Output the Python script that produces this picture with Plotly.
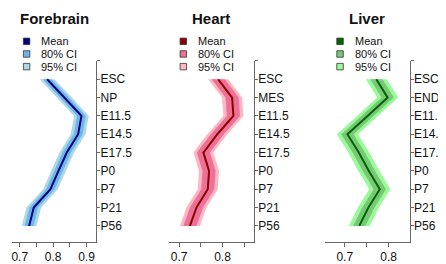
import plotly.graph_objects as go

# page body has an 8px margin: work in window pixels and convert
OX, OY = 8, 8
W, H = 438, 256

# ---------------- data ----------------
tissues = ["Forebrain", "Heart", "Liver"]
stages_forebrain = ["ESC", "NP", "E11.5", "E14.5", "E17.5", "P0", "P7", "P21", "P56"]
stages_heart = ["ESC", "MES", "E11.5", "E14.5", "E17.5", "P0", "P7", "P21", "P56"]
stages_liver = ["ESC", "END", "E11.5", "E14.5", "E17.5", "P0", "P7", "P21", "P56"]

mean_forebrain = [0.782, 0.834, 0.885, 0.875, 0.841, 0.816, 0.792, 0.742, 0.728]
mean_heart = [0.790, 0.822, 0.825, 0.788, 0.756, 0.769, 0.766, 0.740, 0.725]
mean_liver = [0.772, 0.798, 0.752, 0.706, 0.732, 0.755, 0.780, 0.754, 0.733]

half80_forebrain = [0.013] * 9
half95_forebrain = [0.022] * 9
half80_heart = [0.015] * 9
half95_heart = [0.023] * 9
half80_liver = [0.014] * 9
half95_liver = [0.024] * 9

xtick_vals_forebrain = [0.7, 0.75, 0.8, 0.85, 0.9]
xtick_text_forebrain = ["0.7", "", "0.8", "", "0.9"]
xtick_vals_heart = [0.7, 0.75, 0.8, 0.85]
xtick_text_heart = ["0.7", "", "0.8", ""]
xtick_vals_liver = [0.7, 0.75, 0.8]
xtick_text_liver = ["0.7", "", "0.8"]

legend_labels = ["Mean", "80% CI", "95% CI"]

colors = {
    "Forebrain": ("#000080", "#6DB6E6", "#ADD8E6"),
    "Heart": ("#8B0000", "#EC7196", "#FFB6C1"),
    "Liver": ("#006400", "#78C878", "#98FB98"),
}

panels = [
    ("Forebrain", stages_forebrain, mean_forebrain, half80_forebrain, half95_forebrain,
     xtick_vals_forebrain, xtick_text_forebrain, [0.6765, 0.929], (12, 98), 40),
    ("Heart", stages_heart, mean_heart, half80_heart, half95_heart,
     xtick_vals_heart, xtick_text_heart, [0.676, 0.872], (172, 259), 200),
    ("Liver", stages_liver, mean_liver, half80_liver, half95_liver,
     xtick_vals_liver, xtick_text_liver, [0.6556, 0.848], (332, 418), 360),
]

FONT = "Liberation Sans, Arial, Helvetica, sans-serif"
AXIS_COLOR = "#666666"


def px(x):
    return (x - OX) / W


def py(y):
    return 1 - (y - OY) / H


fig = go.Figure()
layout = dict(
    width=W, height=H,
    margin=dict(l=0, r=0, t=0, b=0),
    paper_bgcolor="white", plot_bgcolor="white",
    showlegend=False,
    font=dict(family=FONT, size=12, color="#111111"),
)
annotations = []
shapes = []

ydom = [py(246.5), py(62)]

for i, (name, stages, mean, h80, h95, tv, tt, xr, (x0, x1), legx) in enumerate(panels):
    n = i + 1
    xa = "x" if n == 1 else f"x{n}"
    ya = "y" if n == 1 else f"y{n}"
    c_mean, c80, c95 = colors[name]
    idx = list(range(len(stages)))

    for half, col in ((h95, c95), (h80, c80)):
        lo = [m - h for m, h in zip(mean, half)]
        hi = [m + h for m, h in zip(mean, half)]
        fig.add_trace(go.Scatter(
            x=lo + hi[::-1], y=idx + idx[::-1],
            fill="toself", fillcolor=col, mode="lines",
            line=dict(width=0, color=col), hoverinfo="skip",
            xaxis=xa, yaxis=ya,
        ))
    fig.add_trace(go.Scatter(
        x=mean, y=idx, mode="lines",
        line=dict(color=c_mean, width=2),
        xaxis=xa, yaxis=ya,
    ))

    xkey = "xaxis" if n == 1 else f"xaxis{n}"
    ykey = "yaxis" if n == 1 else f"yaxis{n}"
    layout[xkey] = dict(
        domain=[px(x0), px(x1)], anchor=ya, range=xr,
        tickmode="array", tickvals=tv, ticktext=tt,
        showline=True, linecolor=AXIS_COLOR, linewidth=1,
        ticks="outside", ticklen=4, tickcolor=AXIS_COLOR, tickwidth=1,
        showgrid=False, zeroline=False,
        tickfont=dict(size=12, color="#111111"),
        fixedrange=True,
    )
    layout[ykey] = dict(
        domain=ydom, anchor=xa, side="right",
        range=[8.87, -1],
        tickmode="array", tickvals=[-1] + idx, ticktext=[""] + stages,
        showline=True, linecolor=AXIS_COLOR, linewidth=1,
        ticks="outside", ticklen=3, tickcolor=AXIS_COLOR, tickwidth=1,
        ticklabelstandoff=-2,
        showgrid=False, zeroline=False,
        tickfont=dict(size=12, color="#111111"),
        fixedrange=True,
    )

    # panel title
    annotations.append(dict(
        text=f"<b>{name}</b>", x=px((x0 + x1) / 2), y=py(18.7),
        xref="paper", yref="paper",
        xanchor="center", yanchor="middle", showarrow=False,
        font=dict(size=15, family=FONT, color="#111111"),
    ))

    # legend (swatches + labels)
    for k, (lab, col) in enumerate(zip(legend_labels, (c_mean, c80, c95))):
        cy = 42 + k * 12.9
        sx = legx - 13
        shapes.append(dict(
            type="rect", xref="paper", yref="paper",
            x0=px(sx - 3.3), x1=px(sx + 3.3),
            y0=py(cy + 3.3), y1=py(cy - 3.3),
            fillcolor=col, line=dict(color="#333333", width=0.8),
        ))
        annotations.append(dict(
            text=lab, x=px(legx), y=py(cy), xref="paper", yref="paper",
            xanchor="left", yanchor="middle", showarrow=False,
            font=dict(size=11, family=FONT, color="#111111"),
        ))

layout["annotations"] = annotations
layout["shapes"] = shapes
fig.update_layout(**layout)
fig.write_html("out.html")
